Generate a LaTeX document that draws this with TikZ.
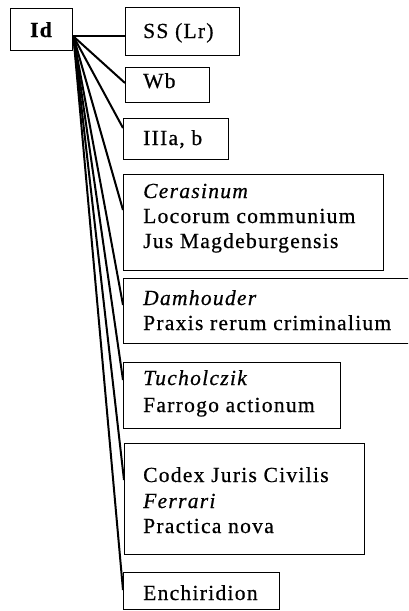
\documentclass[tikz,border=0pt]{standalone}
\usepackage{fontspec}
\setmainfont{Liberation Serif}[LetterSpace=6,FakeBold=0.6]
\begin{document}
\begin{tikzpicture}[x=1pt,y=-1pt,
  box/.style={draw, line width=1.4pt, inner sep=0pt, anchor=north west},
  txt/.style={anchor=base west, inner sep=0pt, font=\fontsize{21.5}{25}\selectfont},
  link/.style={line width=2pt}]
\path[use as bounding box] (0,0) rectangle (408,611);
\clip (0,0) rectangle (408,611);
% boxes
\node[box, minimum width=62pt, minimum height=42pt] (id) at (10,8) {};
\node[anchor=base, inner sep=0pt, font=\fontsize{21.5}{25}\selectfont\bfseries] (idt) at (41,37) {Id};
\node[box, minimum width=114pt, minimum height=48pt] (ss) at (125,7) {};
\node[box, minimum width=84pt, minimum height=35pt] (wb) at (125,67) {};
\node[box, minimum width=105pt, minimum height=41pt] (iii) at (123,118) {};
\node[box, minimum width=260pt, minimum height=96pt] (cer) at (123,174) {};
\node[box, minimum width=300pt, minimum height=65pt] (dam) at (123,278) {};
\node[box, minimum width=217pt, minimum height=66pt] (tuc) at (123,362) {};
\node[box, minimum width=240pt, minimum height=111pt] (cod) at (124,443) {};
\node[box, minimum width=156pt, minimum height=37pt] (enc) at (123,572) {};
% texts
\node[txt] (sst) at (143,38) {SS (Lr)};
\node[txt] (wbt) at (143,88) {Wb};
\node[txt] (iiit) at (143,145) {IIIa, b};
\node[txt] (cer1) at (143,198) {\itshape Cerasinum};
\node[txt] (cer2) at (143,223) {Locorum communium};
\node[txt] (cer3) at (143,248) {Jus Magdeburgensis};
\node[txt] (dam1) at (143,305) {\itshape Damhouder};
\node[txt] (dam2) at (143,330) {Praxis rerum criminalium};
\node[txt] (tuc1) at (143,385) {\itshape Tucholczik};
\node[txt] (tuc2) at (143,412) {Farrogo actionum};
\node[txt] (cod1) at (143,482) {Codex Juris Civilis};
\node[txt] (cod2) at (143,508) {\itshape Ferrari};
\node[txt] (cod3) at (143,533) {Practica nova};
\node[txt] (enct) at (143,600) {Enchiridion};
% connectors
\coordinate (hub) at ([yshift=15pt]id.south east);
\draw[link] (hub) -- (hub -| ss.west);
\draw[link] (hub) -- ([yshift=-16pt]wb.north west);
\draw[link] (hub) -- ([yshift=-10pt]iii.north west);
\draw[link] (hub) -- ([yshift=-36pt]cer.north west);
\draw[link] (hub) -- ([yshift=-27pt]dam.north west);
\draw[link] (hub) -- ([yshift=-18pt]tuc.north west);
\draw[link] (hub) -- ([yshift=-37pt]cod.north west);
\draw[link] (hub) -- ([yshift=-18pt]enc.north west);
\end{tikzpicture}
\end{document}
